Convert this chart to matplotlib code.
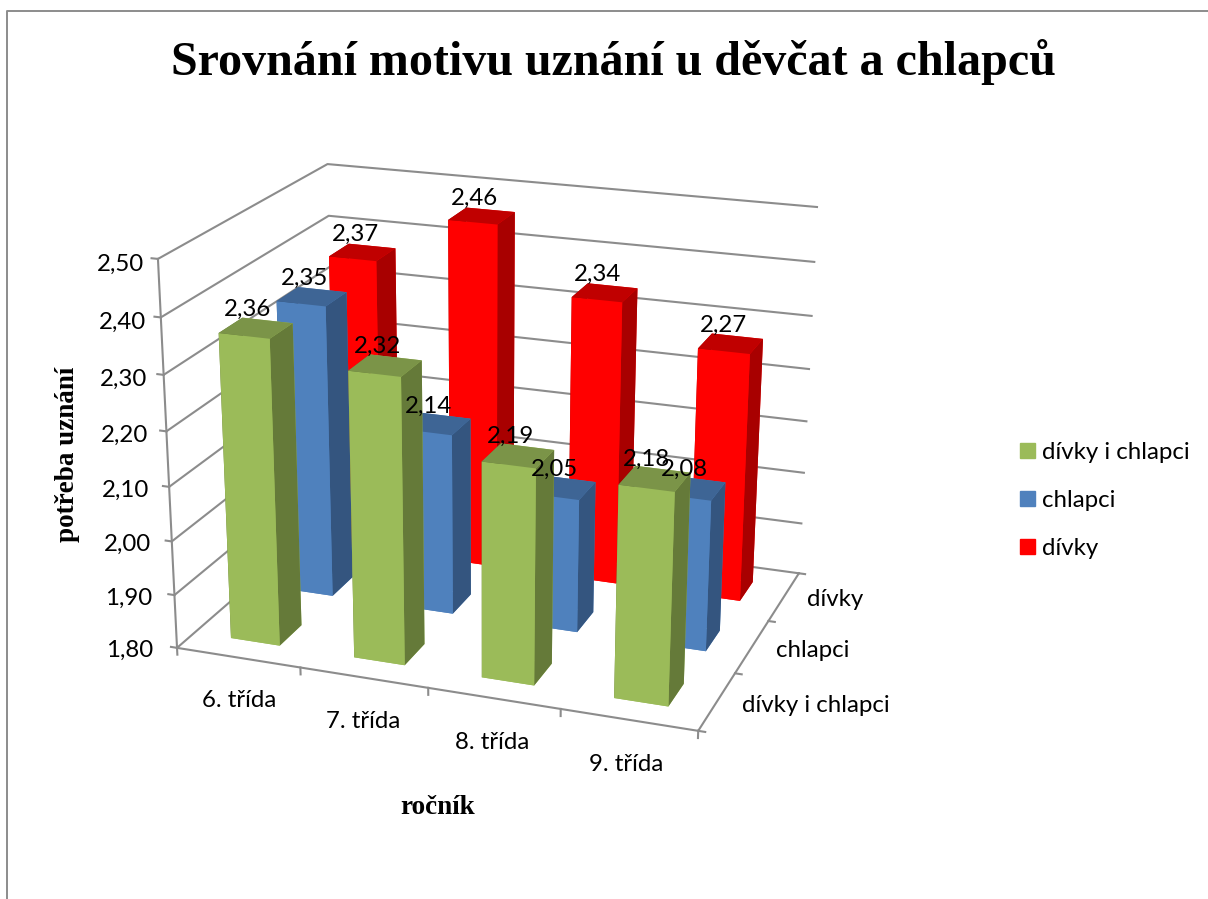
# -*- coding: utf-8 -*-
# 3D sloupcovy graf - srovnani motivu uznani
import numpy as np
import matplotlib
matplotlib.use('Agg')
import matplotlib.pyplot as plt
from matplotlib.lines import Line2D
from matplotlib.patches import Patch
from mpl_toolkits.mplot3d import Axes3D

grades = ['6. třída', '7. třída', '8. třída', '9. třída']
series = ['dívky i chlapci', 'chlapci', 'dívky']
mixed = [2.36, 2.32, 2.19, 2.18]
boys = [2.35, 2.14, 2.05, 2.08]
girls = [2.37, 2.46, 2.34, 2.27]
yticks = [1.8, 1.9, 2.0, 2.1, 2.2, 2.3, 2.4, 2.5]

values = [mixed, boys, girls]
# front, top, side
colors = [('#9BBB59', '#7B9448', '#657A39'),
          ('#4F81BD', '#3E6595', '#34557F'),
          ('#FF0000', '#C00000', '#A80000')]
grid_color = '#8C8C8C'
W, H = 1208, 899
ZMIN, ZMAX = yticks[0], yticks[-1]
NX, NY = len(grades), len(series)
FS = 17.3

# camera fitted on the corners of the chart box (data point -> picture pixel)
calib = [((0, 0, 2.5), (157, 259)), ((0, NY, 2.5), (328, 164)),
         ((NX, NY, 2.5), (817, 207)), ((0, 0, 1.8), (177, 648)),
         ((NX, 0, 1.8), (698, 731)), ((NX, NY, 1.8), (799, 573)),
         ((0, 0, 2.4), (162, 317)), ((0, NY, 2.4), (328, 216)),
         ((NX, NY, 2.4), (814, 262)), ((NX, NY, 2.3), (812, 316)),
         ((NX, NY, 2.2), (809, 369))]
rows, rhs = [], []
for (x, y, z), (u, v) in calib:
    rows.append([x, y, z, 1, 0, 0, 0, 0, -u * x, -u * y, -u * z])
    rows.append([0, 0, 0, 0, x, y, z, 1, -v * x, -v * y, -v * z])
    rhs += [u, v]
p = np.linalg.lstsq(np.array(rows, float), np.array(rhs, float), rcond=None)[0]
P = np.append(p, 1.0).reshape(3, 4)
if P[2] @ np.array([2, 1.5, 2.1, 1]) < 0:
    P = -P

plt.rcParams['font.family'] = ['Lato', 'DejaVu Sans']
fig = plt.figure(figsize=(W / 100, H / 100), dpi=100)
ax = fig.add_axes([0, 0, 1, 1], projection='3d', computed_zorder=False)
ax.apply_aspect = lambda position=None: None
ax.set_axis_off()


def camera():
    # picture pixels -> axes 2D data, then the 4x4 matrix mplot3d wants
    flip = np.array([[1, 0, 0], [0, -1, H], [0, 0, 1.0]])
    Q = ax.transData.inverted().get_matrix() @ flip @ P
    return np.array([Q[0], Q[1], [0, 0, 0, -1], Q[2]])


ax.get_proj = camera


def label3d(x, y, z, s, **kw):
    # text at a 3D chart position, kept as plain figure text
    u, v, w = P @ np.array([x, y, z, 1.0])
    fig.text(u / w / W, 1 - v / w / H, s, fontsize=FS, **kw)


# walls and axes
for t in yticks:
    ax.plot([0, 0, NX], [0, NY, NY], [t, t, t], color=grid_color, lw=1.5, zorder=1)
    ax.plot([0, -0.05], [0, 0], [t, t], color=grid_color, lw=1.5, zorder=1)
    label3d(-0.11 - 0.09 * (ZMAX - t) / (ZMAX - ZMIN), 0, t - 0.012,
            f'{t:.2f}'.replace('.', ','), ha='right', va='center')
ax.plot([0, 0], [0, 0], [ZMIN, ZMAX], color=grid_color, lw=1.5, zorder=1)
ax.plot([0, NX, NX], [0, 0, NY], [ZMIN, ZMIN, ZMIN], color=grid_color, lw=1.5, zorder=1)
for i in range(NX + 1):
    ax.plot([i, i], [0, 0], [ZMIN, ZMIN - 0.013], color=grid_color, lw=1.5, zorder=1)
for j in range(NY + 1):
    ax.plot([NX, NX + 0.05], [j, j], [ZMIN, ZMIN], color=grid_color, lw=1.5, zorder=1)

for i, name in enumerate(grades):
    label3d(i + 0.49, 0, ZMIN - 0.083, name, ha='center', va='center')
for j, name in enumerate(series):
    label3d(NX + 0.18, j + 0.5, ZMIN, name, ha='left', va='center')

# bars, back row first
bar_w = 0.4
order = 10
for j in reversed(range(NY)):
    front, top, side = colors[j]
    for i in range(NX):
        face_cols = [front, top, front, front, side, side]
        ax.bar3d(i + 0.3, j + 0.3, ZMIN, bar_w, bar_w, values[j][i] - ZMIN,
                 color=face_cols, shade=False, zorder=order)
        order += 1

for j in range(NY):
    for i in range(NX):
        v = values[j][i]
        label3d(i + 0.44, j + 0.5, v + 0.032, f'{v:.2f}'.replace('.', ','),
                ha='center', va='center')

# titles
fig.text(613.5 / W, 1 - 62 / H, 'Srovnání motivu uznání u děvčat a chlapců', ha='center',
         va='center', family='Liberation Serif', weight='bold', fontsize=34.55)
fig.text(67 / W, 1 - 454.5 / H, 'potřeba uznání', ha='center', va='center', rotation=90,
         family='Liberation Serif', weight='bold', fontsize=19.5)
fig.text(438 / W, 1 - 808 / H, 'ročník', ha='center', va='center',
         family='Liberation Serif', weight='bold', fontsize=19.5)

# legend
handles = [Patch(color=colors[j][0]) for j in range(NY)]
fig.legend(handles, series, loc='center left', bbox_to_anchor=(1020 / W, 1 - 500.5 / H),
           frameon=False, fontsize=FS, handlelength=0.625, handleheight=0.625,
           handletextpad=0.29, labelspacing=1.125, borderpad=0, borderaxespad=0)

# frame
fig.add_artist(Line2D([7.5 / W, 7.5 / W, 1], [1 - 899 / H, 1 - 10.5 / H, 1 - 10.5 / H],
                      transform=fig.transFigure, color='#8C8C8C', lw=1.4))

fig.savefig('out.png', dpi=100)
